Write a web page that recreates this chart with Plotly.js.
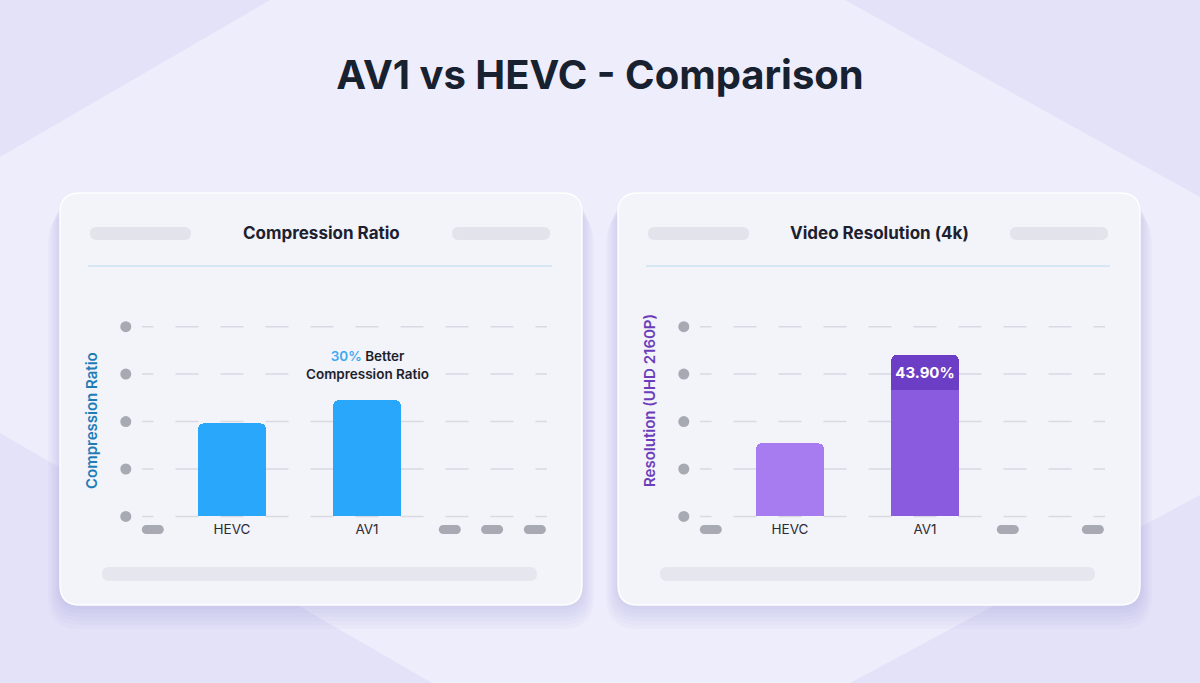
<!DOCTYPE html>
<html>
<head>
<meta charset="utf-8">
<script src="https://cdn.plot.ly/plotly-3.0.1.min.js"></script>
<style>
  html, body { margin: 0; padding: 0; background: #E4E2F8; }
  #plot { width: 1200px; height: 683px; }
</style>
</head>
<body>
<div id="plot"></div>
<script>
// values (grid step = 1 unit)
var codecs = ['HEVC', 'AV1'];
var compressionRatio = [1.96, 2.45];
var resolution4k = [1.54, 3.40];
var resolutionLabel = '43.90%';
var gridTicks = [0, 1, 2, 3, 4];
var codecSlots = [2, 5];
var pillSlots1 = [0.24, 6.84, 7.78, 8.73];
var pillSlots2 = [0.24, 6.84, 8.73];

var W = 1200, H = 683;
function px(x){ return x / W; }
function py(y){ return 1 - y / H; }

// rounded rect in paper coords, args in pixels
function roundRect(x0, y0, x1, y1, r){
  var a = px(x0), b = px(x1), t = py(y0), u = py(y1), rx = r / W, ry = r / H;
  return 'M' + (a + rx) + ',' + t + ' L' + (b - rx) + ',' + t +
    ' Q' + b + ',' + t + ' ' + b + ',' + (t - ry) +
    ' L' + b + ',' + (u + ry) + ' Q' + b + ',' + u + ' ' + (b - rx) + ',' + u +
    ' L' + (a + rx) + ',' + u + ' Q' + a + ',' + u + ' ' + a + ',' + (u + ry) +
    ' L' + a + ',' + (t - ry) + ' Q' + a + ',' + t + ' ' + (a + rx) + ',' + t + ' Z';
}

var pillPath = 'M-6.5,-4.5 L6.5,-4.5 C9,-4.5 11,-2.5 11,0 C11,2.5 9,4.5 6.5,4.5 ' +
  'L-6.5,4.5 C-9,4.5 -11,2.5 -11,0 C-11,-2.5 -9,-4.5 -6.5,-4.5 Z';

var capBand = 0.74;   // height of the dark label band on the AV1 bar
var dotCol = -0.36;
var gridEnd = 9;

var shapes = [];
// background light hexagon
var hex = [[270,0],[845,0],[1200,197],[1200,495],[850,683],[432,683],[0,433],[0,157]];
shapes.push({
  type: 'path', xref: 'paper', yref: 'paper', layer: 'below',
  path: 'M' + hex.map(function(p){ return px(p[0]) + ',' + py(p[1]); }).join(' L') + ' Z',
  fillcolor: '#EEEDFB', line: {width: 0}
});

[0, 558].forEach(function(dx){
  for (var i = 1; i <= 6; i++) {
    shapes.push({
      type: 'path', xref: 'paper', yref: 'paper', layer: 'below',
      path: roundRect(60 + dx - i * 2, 193 + i * 3, 582 + dx + i * 2, 605 + i * 4, 20 + i * 2),
      fillcolor: 'rgba(110,100,190,0.035)', line: {width: 0}
    });
  }
  shapes.push({
    type: 'path', xref: 'paper', yref: 'paper', layer: 'below',
    path: roundRect(60 + dx, 193, 582 + dx, 605, 20),
    fillcolor: '#F3F3FA', line: {color: 'rgba(255,255,255,0.95)', width: 1.5}
  });
  shapes.push({
    type: 'path', xref: 'paper', yref: 'paper', layer: 'below',
    path: roundRect(90 + dx, 227, 191 + dx, 240, 6.5),
    fillcolor: '#E3E3EC', line: {width: 0}
  });
  shapes.push({
    type: 'path', xref: 'paper', yref: 'paper', layer: 'below',
    path: roundRect(452 + dx, 227, 550 + dx, 240, 6.5),
    fillcolor: '#E3E3EC', line: {width: 0}
  });
  shapes.push({
    type: 'path', xref: 'paper', yref: 'paper', layer: 'below',
    path: roundRect(102 + dx, 567, 537 + dx, 581, 7),
    fillcolor: '#E6E6EE', line: {width: 0}
  });
  shapes.push({
    type: 'line', xref: 'paper', yref: 'paper', layer: 'below',
    x0: px(88 + dx), x1: px(552 + dx), y0: py(266), y1: py(266),
    line: {color: '#B7DCEE', width: 1}
  });
});

// dashed gridlines, behind the bars
function grid(xref, yref){
  gridTicks.forEach(function(t){
    shapes.push({
      type: 'line', xref: xref, yref: yref, layer: 'below',
      x0: 0, x1: gridEnd, y0: t, y1: t,
      line: {color: '#D9D9E3', width: 1.5, dash: '11.5px,22px,11.5px,0px'}
    });
  });
}
grid('x', 'y');
grid('x2', 'y2');

function pills(slots, xref){
  slots.forEach(function(s){
    shapes.push({
      type: 'path', xref: xref, yref: 'paper', layer: 'above',
      xsizemode: 'pixel', ysizemode: 'pixel', xanchor: s, yanchor: py(529.5),
      path: pillPath, fillcolor: '#A7A9B3', line: {width: 0}
    });
  });
}
pills(pillSlots1, 'x');
pills(pillSlots2, 'x2');

var dots = function(xa, ya){
  return {
    type: 'scatter', mode: 'markers', xaxis: xa, yaxis: ya,
    x: gridTicks.map(function(){ return dotCol; }), y: gridTicks,
    marker: {size: 11, color: '#A7A9B3'}, cliponaxis: false, showlegend: false
  };
};

var data = [
  {
    type: 'bar', x: codecSlots, y: compressionRatio, width: 1.5,
    marker: {color: '#29A8FB', cornerradius: 5}, xaxis: 'x', yaxis: 'y'
  },
  dots('x', 'y'),
  {
    type: 'bar', x: codecSlots, y: [resolution4k[0], resolution4k[1] - capBand], width: 1.5,
    marker: {color: ['#A77CF0', '#8B5BDF'], cornerradius: 5}, xaxis: 'x2', yaxis: 'y2'
  },
  {
    type: 'bar', x: [codecSlots[1]], y: [capBand], width: 1.5,
    marker: {color: '#6C3EC5', cornerradius: 5}, xaxis: 'x2', yaxis: 'y2',
    text: [resolutionLabel], textposition: 'inside', insidetextanchor: 'middle',
    constraintext: 'none', textangle: 0,
    textfont: {family: 'Inter', size: 15, weight: 700, color: '#FFFFFF'}
  },
  dots('x2', 'y2')
];

// 1 x unit = 45 px, x=0 sits at the left end of the grid
var yDom = [py(519.3), py(312.4)];
function xAxis(x0){
  return {
    domain: [px(x0 - 36), px(x0 + 414)], range: [-0.8, 9.2], tickvals: codecSlots, ticktext: codecs,
    showgrid: false, zeroline: false, showline: false, ticks: '',
    tickfont: {family: 'Inter', size: 13.5, color: '#2A2B36'}, fixedrange: true
  };
}
function yAxis(anchor){
  return {
    domain: yDom, range: [-0.06, 4.3], tickvals: gridTicks, showticklabels: false,
    showgrid: false, zeroline: false, showline: false, ticks: '', anchor: anchor, fixedrange: true
  };
}

var layout = {
  width: W, height: H,
  margin: {l: 0, r: 0, t: 0, b: 0},
  paper_bgcolor: '#E4E2F8', plot_bgcolor: 'rgba(0,0,0,0)',
  barmode: 'stack', showlegend: false, hovermode: false,
  title: {
    text: 'AV1 vs HEVC - Comparison', x: 0.5, xanchor: 'center', y: py(75), yanchor: 'middle',
    font: {family: 'Inter', size: 40, weight: 700, color: '#18212F'}
  },
  xaxis: Object.assign(xAxis(142), {anchor: 'y'}),
  yaxis: yAxis('x'),
  xaxis2: Object.assign(xAxis(700), {anchor: 'y2'}),
  yaxis2: yAxis('x2'),
  shapes: shapes,
  annotations: [
    {xref: 'paper', yref: 'paper', x: px(321), y: py(233), xanchor: 'center', yanchor: 'middle',
     showarrow: false, text: 'Compression Ratio',
     font: {family: 'Inter', size: 17, weight: 700, color: '#1C2130'}},
    {xref: 'paper', yref: 'paper', x: px(879), y: py(233), xanchor: 'center', yanchor: 'middle',
     showarrow: false, text: 'Video Resolution (4k)',
     font: {family: 'Inter', size: 17, weight: 700, color: '#1C2130'}},
    {xref: 'paper', yref: 'paper', x: px(91), y: py(421), xanchor: 'center', yanchor: 'middle',
     showarrow: false, textangle: -90, text: 'Compression Ratio',
     font: {family: 'Inter', size: 15, weight: 600, color: '#1E7DB6'}},
    {xref: 'paper', yref: 'paper', x: px(649), y: py(401), xanchor: 'center', yanchor: 'middle',
     showarrow: false, textangle: -90, text: 'Resolution (UHD 2160P)',
     font: {family: 'Inter', size: 15, weight: 600, color: '#6B3DB9'}},
    {xref: 'x', yref: 'y', x: codecSlots[1], y: compressionRatio[1], yanchor: 'bottom', yshift: 16,
     showarrow: false, align: 'center',
     text: '<span style="color:#3DA9F0">30%</span> Better<br>Compression Ratio',
     font: {family: 'Inter', size: 13.5, weight: 600, color: '#1D1F2C'}}
  ]
};

Plotly.newPlot('plot', data, layout, {displayModeBar: false, staticPlot: true});
</script>
</body>
</html>
